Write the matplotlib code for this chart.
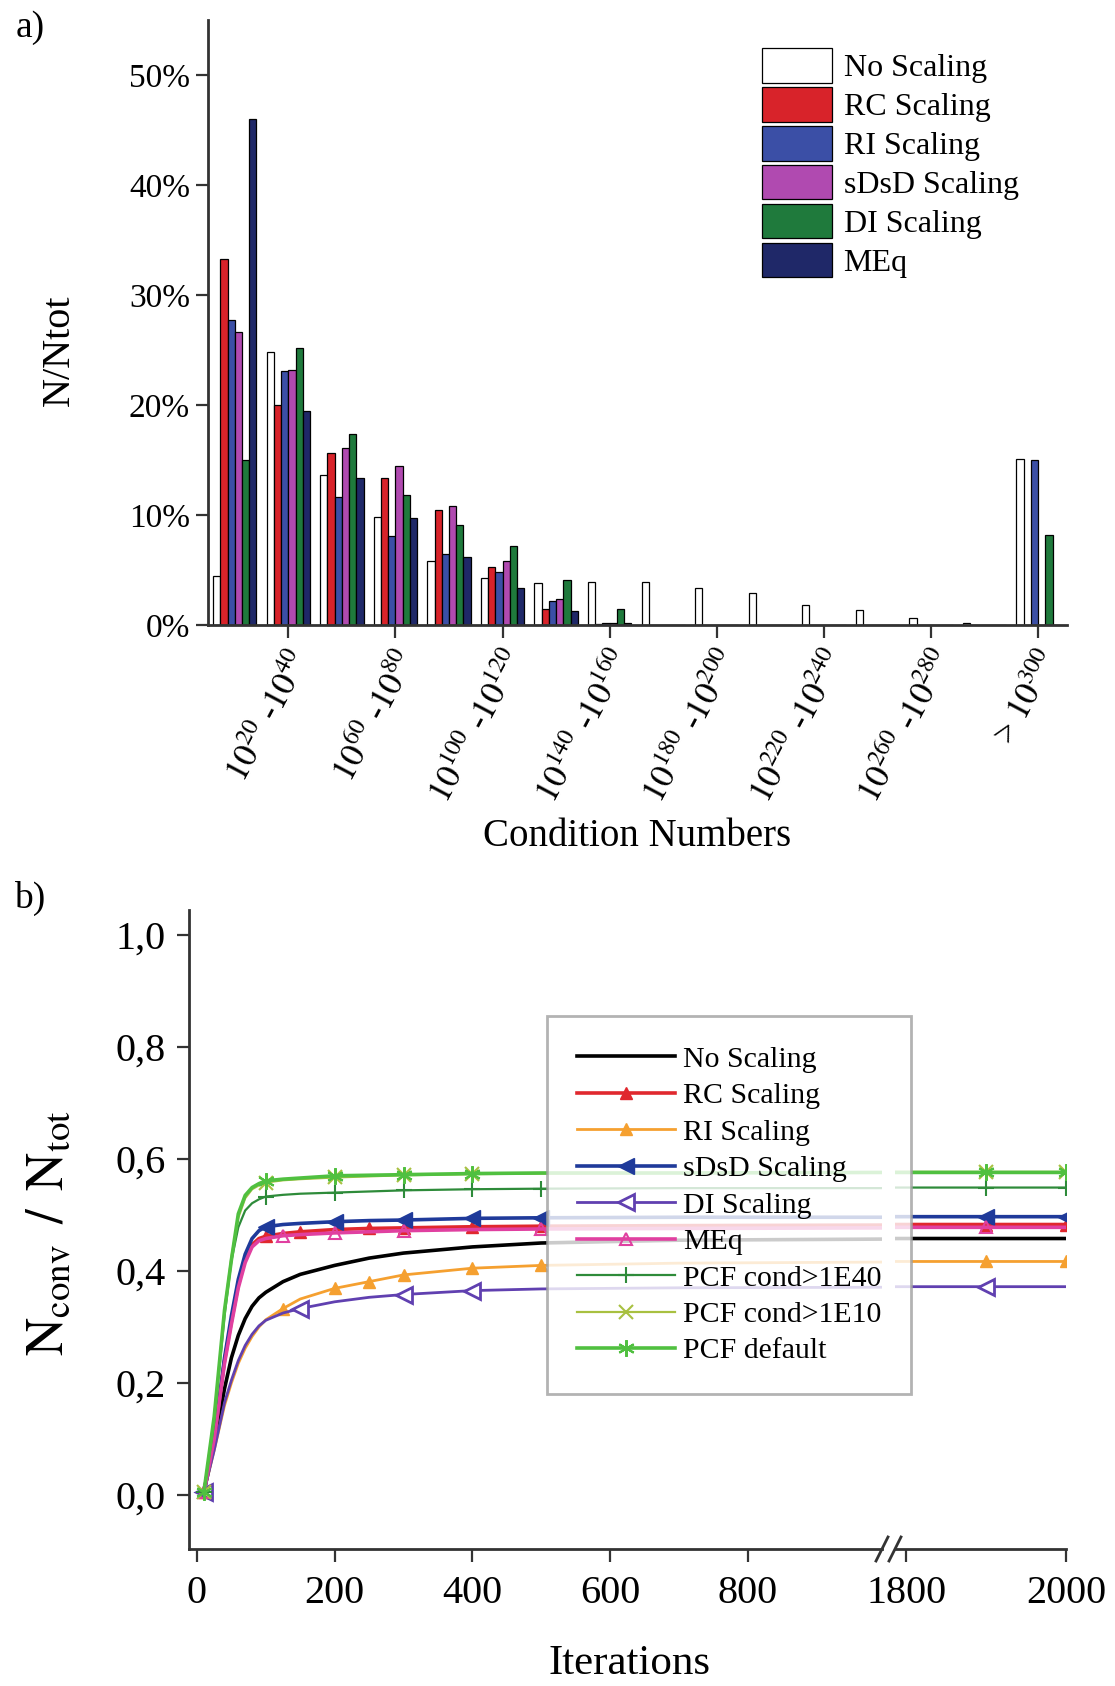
import numpy as np
import matplotlib
matplotlib.use("Agg")
import matplotlib.pyplot as plt
from matplotlib import ticker
from matplotlib.lines import Line2D

plt.rcParams['font.family'] = ['Liberation Serif', 'DejaVu Serif']
plt.rcParams['mathtext.fontset'] = 'stix'

# ---------------- data: panel a) ----------------
bins = ['1e0-1e20', '1e20-1e40', '1e40-1e60', '1e60-1e80', '1e80-1e100', '1e100-1e120',
        '1e120-1e140', '1e140-1e160', '1e160-1e180', '1e180-1e200', '1e200-1e220',
        '1e220-1e240', '1e240-1e260', '1e260-1e280', '1e280-1e300', '>1e300']
bar_names = ['No Scaling', 'RC Scaling', 'RI Scaling', 'sDsD Scaling', 'DI Scaling', 'MEq']
no_scal = [4.5, 24.8, 13.6, 9.8, 5.8, 4.3, 3.8, 3.9, 3.9, 3.4, 2.9, 1.8, 1.4, 0.6, 0.15, 15.1]
rc_scal = [33.3, 20.0, 15.6, 13.4, 10.5, 5.3, 1.5, 0.1, 0, 0, 0, 0, 0, 0, 0, 0]
ri_scal = [27.7, 23.1, 11.6, 8.1, 6.5, 4.8, 2.2, 0.2, 0, 0, 0, 0, 0, 0, 0, 15.0]
sdsd_scal = [26.6, 23.2, 16.1, 14.5, 10.8, 5.8, 2.4, 0.2, 0, 0, 0, 0, 0, 0, 0, 0]
di_scal = [15.0, 25.2, 17.4, 11.8, 9.1, 7.2, 4.1, 1.5, 0, 0, 0, 0, 0, 0, 0, 8.2]
meq_scal = [46.0, 19.5, 13.4, 9.7, 6.2, 3.4, 1.3, 0.2, 0, 0, 0, 0, 0, 0, 0, 0]
bar_colors = ['white', '#d8232a', '#3b4fa6', '#b04ab0', '#1f7a3c', '#1f2868']
xtick_labels = [r'$10^{20}$ -$10^{40}$', r'$10^{60}$ -$10^{80}$', r'$10^{100}$ -$10^{120}$',
                r'$10^{140}$ -$10^{160}$', r'$10^{180}$ -$10^{200}$', r'$10^{220}$ -$10^{240}$',
                r'$10^{260}$ -$10^{280}$', r'> $10^{300}$']

# ---------------- data: panel b) ----------------
iters = [10, 25, 40, 50, 60, 70, 80, 90, 100, 125, 150, 200, 250, 300, 400, 500, 700, 1000, 1800, 1900, 2000]
y_none = [0.005, 0.09, 0.19, 0.245, 0.285, 0.315, 0.337, 0.352, 0.362, 0.381, 0.394, 0.410, 0.423, 0.432, 0.443, 0.450, 0.455, 0.457, 0.458, 0.458, 0.458]
y_rc = [0.005, 0.10, 0.24, 0.31, 0.375, 0.42, 0.447, 0.458, 0.462, 0.467, 0.470, 0.474, 0.476, 0.477, 0.479, 0.480, 0.481, 0.482, 0.483, 0.483, 0.483]
y_ri = [0.005, 0.08, 0.16, 0.20, 0.235, 0.262, 0.283, 0.300, 0.313, 0.333, 0.350, 0.369, 0.381, 0.393, 0.405, 0.410, 0.414, 0.416, 0.417, 0.417, 0.417]
y_sdsd = [0.005, 0.10, 0.245, 0.32, 0.385, 0.43, 0.458, 0.472, 0.479, 0.483, 0.485, 0.488, 0.490, 0.491, 0.494, 0.495, 0.496, 0.496, 0.497, 0.497, 0.497]
y_di = [0.005, 0.08, 0.165, 0.205, 0.24, 0.267, 0.287, 0.302, 0.312, 0.325, 0.333, 0.345, 0.353, 0.358, 0.365, 0.368, 0.370, 0.371, 0.372, 0.372, 0.372]
y_meq = [0.005, 0.10, 0.235, 0.305, 0.37, 0.415, 0.443, 0.454, 0.458, 0.463, 0.465, 0.468, 0.470, 0.472, 0.474, 0.475, 0.476, 0.477, 0.478, 0.478, 0.478]
y_pcf40 = [0.005, 0.13, 0.32, 0.418, 0.478, 0.508, 0.521, 0.528, 0.533, 0.536, 0.538, 0.540, 0.542, 0.544, 0.546, 0.547, 0.548, 0.548, 0.549, 0.549, 0.549]
y_pcf10 = [0.005, 0.14, 0.33, 0.425, 0.495, 0.53, 0.546, 0.553, 0.558, 0.562, 0.564, 0.567, 0.569, 0.571, 0.573, 0.574, 0.575, 0.576, 0.577, 0.577, 0.577]
y_pcfd = [0.005, 0.14, 0.33, 0.42, 0.502, 0.535, 0.549, 0.556, 0.561, 0.564, 0.566, 0.570, 0.571, 0.572, 0.574, 0.575, 0.575, 0.576, 0.576, 0.576, 0.576]

series = [
    ('No Scaling', y_none, dict(color='black', lw=2.6, marker=None)),
    ('RC Scaling', y_rc, dict(color='#e0282e', lw=2.6, marker='^', ms=9, markevery=[0, 8, 10, 12, 13, 14, 15, 19, 20])),
    ('RI Scaling', y_ri, dict(color='#f5a030', lw=2.0, marker='^', ms=8, markevery=[0, 9, 11, 12, 13, 14, 15, 19, 20])),
    ('sDsD Scaling', y_sdsd, dict(color='#1f3a9a', lw=2.6, marker='<', ms=11, markevery=[0, 8, 11, 13, 14, 15, 19, 20])),
    ('DI Scaling', y_di, dict(color='#6040b0', lw=2.0, marker='<', ms=11, mfc='white', mew=2, markevery=[0, 10, 13, 14, 19])),
    ('MEq', y_meq, dict(color='#e040a0', lw=2.6, marker='^', ms=8, mfc='none', mew=1.5, markevery=[0, 9, 11, 13, 15, 19])),
    ('PCF cond>1E40', y_pcf40, dict(color='#2e8b3a', lw=1.6, marker='+', ms=12, mew=1.5, markevery=[0, 8, 11, 13, 14, 15, 19, 20])),
    ('PCF cond>1E10', y_pcf10, dict(color='#a8c040', lw=1.6, marker='x', ms=10, mew=1.5, markevery=[0, 8, 11, 13, 14, 19, 20])),
    ('PCF default', y_pcfd, dict(color='#50c040', lw=2.6, marker=(6, 2, 0), ms=12, mew=1.5, markevery=[0, 8, 11, 13, 14, 19, 20])),
]

W, H = 1115, 1686
fig = plt.figure(figsize=(W / 100, H / 100), dpi=100)


def px_axes(l, t, r, b):
    return fig.add_axes([l / W, 1 - b / H, (r - l) / W, (b - t) / H])


def style_axes(ax, size):
    for s in ['top', 'right']:
        ax.spines[s].set_visible(False)
    for s in ['left', 'bottom']:
        ax.spines[s].set_linewidth(2.0)
        ax.spines[s].set_color('#333333')
    ax.tick_params(direction='out', length=9, width=1.6, color='#333333', labelsize=size)


# ---------------- panel a) ----------------
ax1 = px_axes(208, 20, 1067, 625)
style_axes(ax1, 24)
x = np.arange(len(bins))
w = 0.135
bar_data = [no_scal, rc_scal, ri_scal, sdsd_scal, di_scal, meq_scal]
for i, (name, vals, col) in enumerate(zip(bar_names, bar_data, bar_colors)):
    ax1.bar(x + (i - 2.5) * w, vals, w, color=col, edgecolor='black', linewidth=0.9, label=name)
ax1.set_xlim(-0.5, 15.54)
ax1.set_ylim(0, 55)
ax1.set_yticks([0, 10, 20, 30, 40, 50])
ax1.yaxis.set_major_formatter(ticker.FuncFormatter(lambda v, p: f'{v:.0f}%'))
ax1.set_xticks(x[1::2])
ax1.set_xticklabels(xtick_labels, rotation=62, ha='right', va='top', rotation_mode='anchor', fontsize=25)
ax1.tick_params(axis='x', pad=6)
ax1.tick_params(axis='y', pad=4)
ax1.legend(loc='upper left', bbox_to_anchor=(0.645, 0.954), frameon=False, fontsize=23,
           handlelength=2.2, handleheight=1.3, labelspacing=0.12, handletextpad=0.35,
           borderpad=0, borderaxespad=0)
fig.text(59 / W, 1 - 350 / H, 'N/Ntot', rotation=90, ha='center', va='center', fontsize=29)
fig.text(637 / W, 1 - 837 / H, 'Condition Numbers', ha='center', va='center', fontsize=28)
fig.text(30 / W, 1 - 28 / H, 'a)', ha='center', va='center', fontsize=27)

# ---------------- panel b) ----------------
axL = px_axes(189, 910, 882, 1549)
axR = px_axes(895, 910, 1066, 1549)
for ax in (axL, axR):
    style_axes(ax, 29)
    for name, ys, kw in series:
        ax.plot(iters, ys, label=name, **kw)
    ax.set_ylim(-0.0964, 1.0446)
    ax.tick_params(axis='x', pad=10)
axL.set_xlim(-11.6, 995)
axR.set_xlim(1786, 2000)
axL.set_xticks([0, 200, 400, 600, 800])
axR.set_xticks([1800, 2000])
axL.set_yticks([0.0, 0.2, 0.4, 0.6, 0.8, 1.0])
axL.yaxis.set_major_formatter(ticker.FuncFormatter(lambda v, p: f'{v:.1f}'.replace('.', ',')))
axL.tick_params(axis='y', pad=8)
axR.spines['left'].set_visible(False)
axR.tick_params(axis='y', left=False, labelleft=False)

# break marks on the x axis
for x0 in (876, 889):
    fig.add_artist(Line2D([x0 / W, (x0 + 12) / W], [1 - 1561 / H, 1 - 1537 / H],
                          color='#333333', lw=2.0, transform=fig.transFigure))

handles, labels = axL.get_legend_handles_labels()
leg = fig.legend(handles, labels, loc='upper left', bbox_to_anchor=(547 / W, 1 - 1016 / H),
                 fontsize=21.5, frameon=True, fancybox=False, edgecolor='#a0a0a0',
                 handlelength=3.3, handletextpad=0.25, labelspacing=0.32, borderpad=1.0,
                 borderaxespad=0)
leg.get_frame().set_linewidth(2.0)

fig.text(50 / W, 1 - 1233 / H, r'$\mathrm{N_{conv}\ \,/\ \,N_{tot}}$', rotation=90,
         ha='center', va='center', fontsize=38)
fig.text(629 / W, 1 - 1664 / H, 'Iterations', ha='center', va='center', fontsize=31)
fig.text(30 / W, 1 - 898 / H, 'b)', ha='center', va='center', fontsize=27)

fig.savefig('out.png', dpi=100)
